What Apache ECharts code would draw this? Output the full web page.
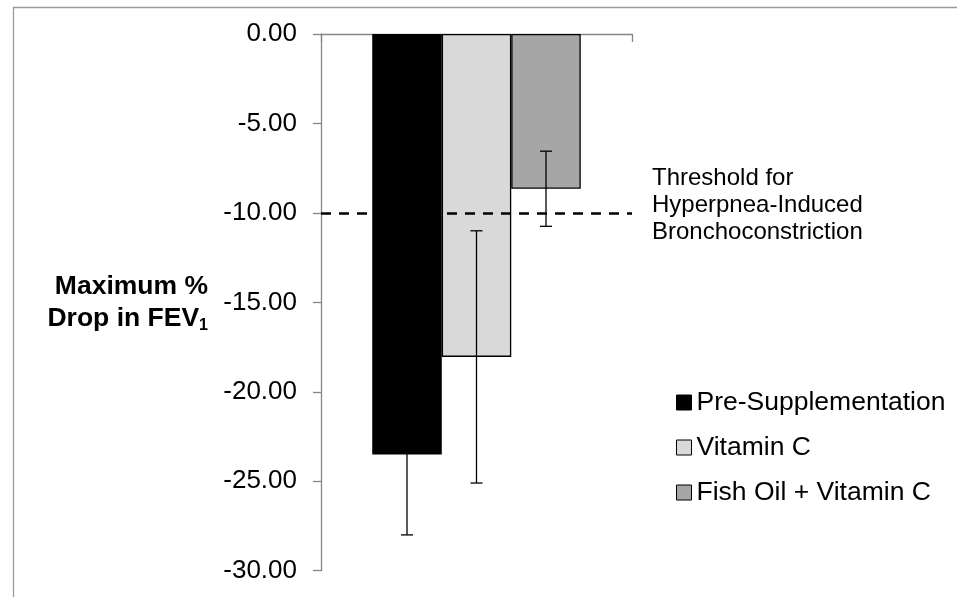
<!DOCTYPE html>
<html><head><meta charset="utf-8">
<script src="https://cdn.jsdelivr.net/npm/echarts@6/dist/echarts.min.js"></script>
<style>html,body{margin:0;padding:0;background:#fff}#c{width:957px;height:597px}</style>
</head><body><div id="c"></div>
<script>
const groups = ['Pre-Supplementation', 'Vitamin C', 'Fish Oil + Vitamin C'];
const means = [-23.5, -18.05, -8.65];
const errors = [4.5, 7.05, 2.1];
const colors = ['#000000', '#d9d9d9', '#a6a6a6'];
const yTicks = [0, -5, -10, -15, -20, -25, -30];
const threshold = -10;
const thresholdText = 'Threshold for\nHyperpnea-Induced\nBronchoconstriction';

const FONT = "'Liberation Sans', Arial, Helvetica, sans-serif";
const BAR_W = 69.5;
const chart = echarts.init(document.getElementById('c'), null, {renderer: 'canvas'});

const series = groups.map((g, i) => ({
  name: g, type: 'bar', data: [means[i]], barWidth: BAR_W, barGap: '0%',
  itemStyle: {color: colors[i], borderColor: '#000', borderWidth: 1.3},
  z: 2,
  markLine: i === 0 ? {
    silent: true, symbol: 'none', z: 5,
    label: {show: false},
    lineStyle: {color: '#000', type: [10, 8], width: 2.5},
    data: [{yAxis: threshold}]
  } : undefined
}));

series.push({
  type: 'custom', z: 6, silent: true,
  data: means.map((m, i) => [i, m, errors[i]]),
  renderItem: function (params, api) {
    const idx = api.value(0), m = api.value(1), e = api.value(2);
    const center = api.coord([0, m]);
    const x = center[0] + (idx - (groups.length - 1) / 2) * BAR_W;
    const yTop = api.coord([0, m + e])[1];
    const yBot = api.coord([0, m - e])[1];
    const cap = 6;
    const st = {stroke: '#000', lineWidth: 1.3};
    return {type: 'group', children: [
      {type: 'line', shape: {x1: x, y1: yTop, x2: x, y2: yBot}, style: st},
      {type: 'line', shape: {x1: x - cap, y1: yTop, x2: x + cap, y2: yTop}, style: st},
      {type: 'line', shape: {x1: x - cap, y1: yBot, x2: x + cap, y2: yBot}, style: st}
    ]};
  }
});

chart.setOption({
  animation: false,
  textStyle: {fontFamily: FONT},
  grid: {left: 321, top: 34, width: 311, height: 536.7},
  xAxis: {
    type: 'category', data: [''],
    axisLine: {onZero: true, lineStyle: {color: '#868686', width: 1.3}},
    axisTick: {show: true, length: 8, lineStyle: {color: '#868686', width: 1.3}},
    axisLabel: {show: false}
  },
  yAxis: {
    type: 'value', min: -30, max: 0, interval: 5,
    splitLine: {show: false},
    axisLine: {show: true, lineStyle: {color: '#868686', width: 1.3}},
    axisTick: {show: true, length: 8, lineStyle: {color: '#868686', width: 1.3}},
    axisLabel: {
      margin: 24, color: '#000', fontSize: 26, fontFamily: FONT,
      formatter: v => yTicks.includes(v) ? v.toFixed(2) : ''
    },
    name: '{b|Maximum %}\n{b|Drop in FEV}{s|1}',
    nameLocation: 'middle', nameRotate: 0, nameGap: 113,
    nameTextStyle: {
      fontFamily: FONT,
      rich: {
        b: {fontSize: 26.5, fontWeight: 'bold', color: '#000', lineHeight: 32, fontFamily: FONT},
        s: {fontSize: 16, fontWeight: 'bold', color: '#000', lineHeight: 32, padding: [14, 0, 0, 0], fontFamily: FONT}
      }
    }
  },
  legend: {
    orient: 'vertical', left: 676, top: 389, padding: 0,
    itemWidth: 15, itemHeight: 15, itemGap: 18,
    icon: 'rect',
    data: groups,
    textStyle: {fontSize: 26.5, color: '#000', fontFamily: FONT, lineHeight: 26},
    itemStyle: {borderColor: '#000', borderWidth: 1}
  },
  graphic: [
    {type: 'rect', left: 11, top: 5, shape: {width: 1000, height: 1000},
     style: {fill: 'none', stroke: '#9a9a9a', lineWidth: 1.3}, silent: true, z: -1},
    {type: 'text', left: 652, top: 165,
     style: {text: thresholdText, font: '24px ' + FONT, fill: '#000', lineHeight: 27}}
  ],
  series: series
});
</script>
</body></html>
